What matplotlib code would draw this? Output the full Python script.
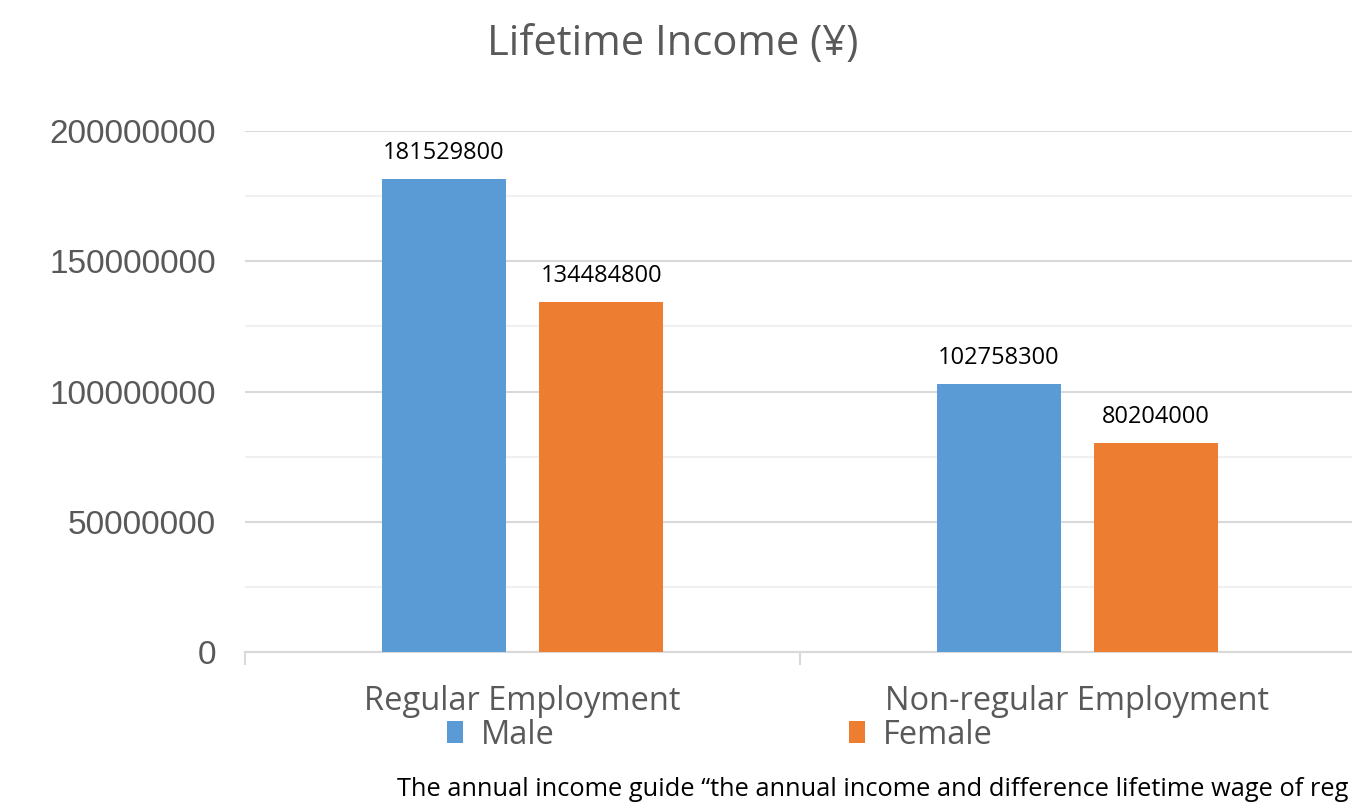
import matplotlib.pyplot as plt
import numpy as np

# Данные
categories = ['Regular Employment', 'Non-regular Employment']
male = [181529800, 102758300]
female = [134484800, 80204000]
y_ticks = [0, 50000000, 100000000, 150000000, 200000000]
note = 'The annual income guide “the annual income and difference lifetime wage of reg'

blue = '#5b9bd5'
orange = '#ed7d31'
grey = '#595959'

fig = plt.figure(figsize=(13.52, 8.09), dpi=100)
ax = fig.add_axes([245 / 1352, 1 - 652 / 809, 1110 / 1352, (652 - 131) / 809])

x = np.arange(len(categories))
w = 0.223
b1 = ax.bar(x - 0.142, male, w, color=blue, label='Male', zorder=3)
b2 = ax.bar(x + 0.142, female, w, color=orange, label='Female', zorder=3)

for bars in (b1, b2):
    for r in bars:
        ax.annotate(str(int(r.get_height())), (r.get_x() + r.get_width() / 2, r.get_height()),
                    xytext=(0, 10), textcoords='offset points', ha='center', va='bottom',
                    fontsize=17, family='Open Sans', color='black')

ax.set_xlim(-0.5, 1.5)
ax.set_ylim(0, 200000000)
ax.set_yticks(y_ticks)
ax.set_yticklabels([str(v) for v in y_ticks], fontsize=24, family='Liberation Sans', color=grey)
ax.set_yticks(np.arange(25000000, 200000000, 50000000), minor=True)
ax.grid(axis='y', which='major', color='#d9d9d9', lw=1.5, zorder=0)
ax.grid(axis='y', which='minor', color='#f0f0f0', lw=1.5, zorder=0)
ax.tick_params(axis='y', which='both', length=0, pad=21)

ax.set_xticks(x)
ax.set_xticklabels(categories, fontsize=23.5, family='Open Sans', color=grey)
ax.tick_params(axis='x', which='major', length=0, pad=24)
ax.set_xticks([-0.5, 0.5, 1.5], minor=True)
ax.tick_params(axis='x', which='minor', length=9, color='#d9d9d9', width=1.5)

for s in ['top', 'right', 'left']:
    ax.spines[s].set_visible(False)
ax.spines['bottom'].set_color('#d9d9d9')
ax.spines['bottom'].set_linewidth(1.5)

fig.text(673 / 1352, 1 - 44 / 809, 'Lifetime Income (¥)', ha='center', va='center',
         fontsize=30, family='Open Sans', color=grey)

fig.legend(handles=[b1, b2], loc='center', bbox_to_anchor=(720 / 1352, 1 - 735 / 809), ncol=2,
           frameon=False, handlelength=0.5, handleheight=0.62, handletextpad=0.55,
           columnspacing=9.0, prop={'family': 'Open Sans', 'size': 23.5}, labelcolor=grey)

fig.text(397 / 1352, 1 - 789 / 809, note,
         ha='left', va='center', fontsize=18.3, family='Open Sans', color='black')

fig.savefig('out.png', dpi=100)
